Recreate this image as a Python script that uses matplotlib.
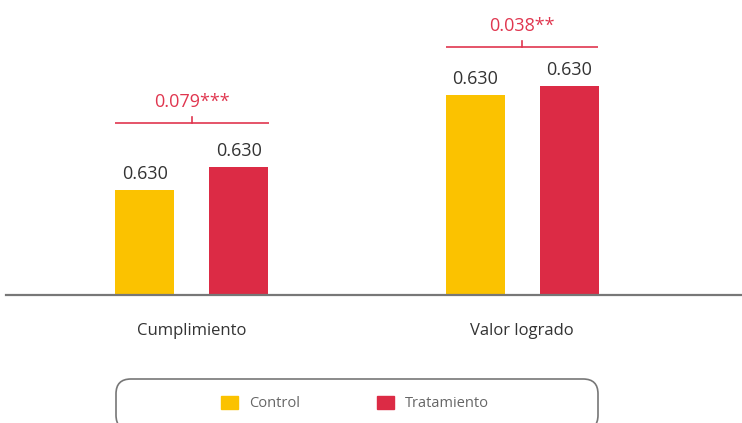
import matplotlib
matplotlib.use("Agg")
import matplotlib.pyplot as plt
from matplotlib.patches import FancyBboxPatch, Rectangle
from matplotlib.transforms import offset_copy
import numpy as np

plt.rcParams['font.family'] = ['Open Sans', 'DejaVu Sans']

categories = ["Cumplimiento", "Valor logrado"]
series_names = ["Control", "Tratamiento"]
control = [0.361, 0.687]
treatment = [0.440, 0.718]
value_labels = [["0.630", "0.630"], ["0.630", "0.630"]]  # [control, treatment]
diff_labels = ["0.079***", "0.038**"]
bracket_y = [0.591, 0.852]

YELLOW = "#FBC200"
RED = "#DC2B45"
BRACKET = "#E0364F"
TEXT = "#333333"

W, H = 742, 423
fig = plt.figure(figsize=(W / 100, H / 100), dpi=100)
ax = fig.add_axes([6 / W, (H - 295) / H, (W - 6) / W, 295 / H])

x = np.arange(len(categories))
bw = 59 / 330
off = 47 / 330
ax.bar(x - off, control, bw, color=YELLOW, zorder=2)
ax.bar(x + off, treatment, bw, color=RED, zorder=2)

ax.set_xlim((6 - 192) / 330, (742 - 192) / 330)
ax.set_ylim(0, 295 / 291)
for s in ["top", "right", "left"]:
    ax.spines[s].set_visible(False)
ax.spines["bottom"].set_color("#777777")
ax.spines["bottom"].set_linewidth(1.6)
ax.set_xticks([])
ax.set_yticks([])

# value labels
for i in range(len(categories)):
    for xi, v, lab in [(x[i] - off, control[i], value_labels[0][i]),
                       (x[i] + off, treatment[i], value_labels[1][i])]:
        tr = offset_copy(ax.transData, fig=fig, x=0, y=11, units='dots')
        ax.text(xi, v, lab, transform=tr, ha='center', va='baseline',
                fontsize=13, color=TEXT)

# brackets
for i in range(len(categories)):
    y = bracket_y[i]
    ax.plot([x[i] - off - bw / 2, x[i] + off + bw / 2], [y, y],
            color=BRACKET, lw=1.2, solid_capstyle='butt', clip_on=False)
    ax.plot([x[i], x[i]], [y, y + 6 / 291], color=BRACKET, lw=1.2, clip_on=False)
    tr = offset_copy(ax.transData, fig=fig, x=0, y=16, units='dots')
    ax.text(x[i], y, diff_labels[i], transform=tr, ha='center', va='baseline',
            fontsize=13, color=BRACKET)

# category labels
for i, c in enumerate(categories):
    tr = offset_copy(ax.transData, fig=fig, x=0, y=-40, units='dots')
    ax.text(x[i], 0, c, transform=tr, ha='center', va='baseline',
            fontsize=12, color=TEXT)

# legend box
box = FancyBboxPatch((116 / W, (H - 430) / H), (598 - 116) / W, 51 / H,
                     boxstyle="round,pad=0,rounding_size=0.02",
                     transform=fig.transFigure, facecolor='white',
                     edgecolor='#777777', lw=1.2, mutation_aspect=W / H)
fig.patches.append(box)
colors = [YELLOW, RED]
mx = [221, 377]
tx = [249, 405]
for name, col, m, t in zip(series_names, colors, mx, tx):
    fig.patches.append(Rectangle((m / W, (H - 409) / H), 17 / W, 13 / H,
                                 transform=fig.transFigure, color=col))
    fig.text(t / W, (H - 403) / H, name, ha='left', va='center',
             fontsize=10.5, color='#666666')

fig.savefig("out.png", dpi=100)
